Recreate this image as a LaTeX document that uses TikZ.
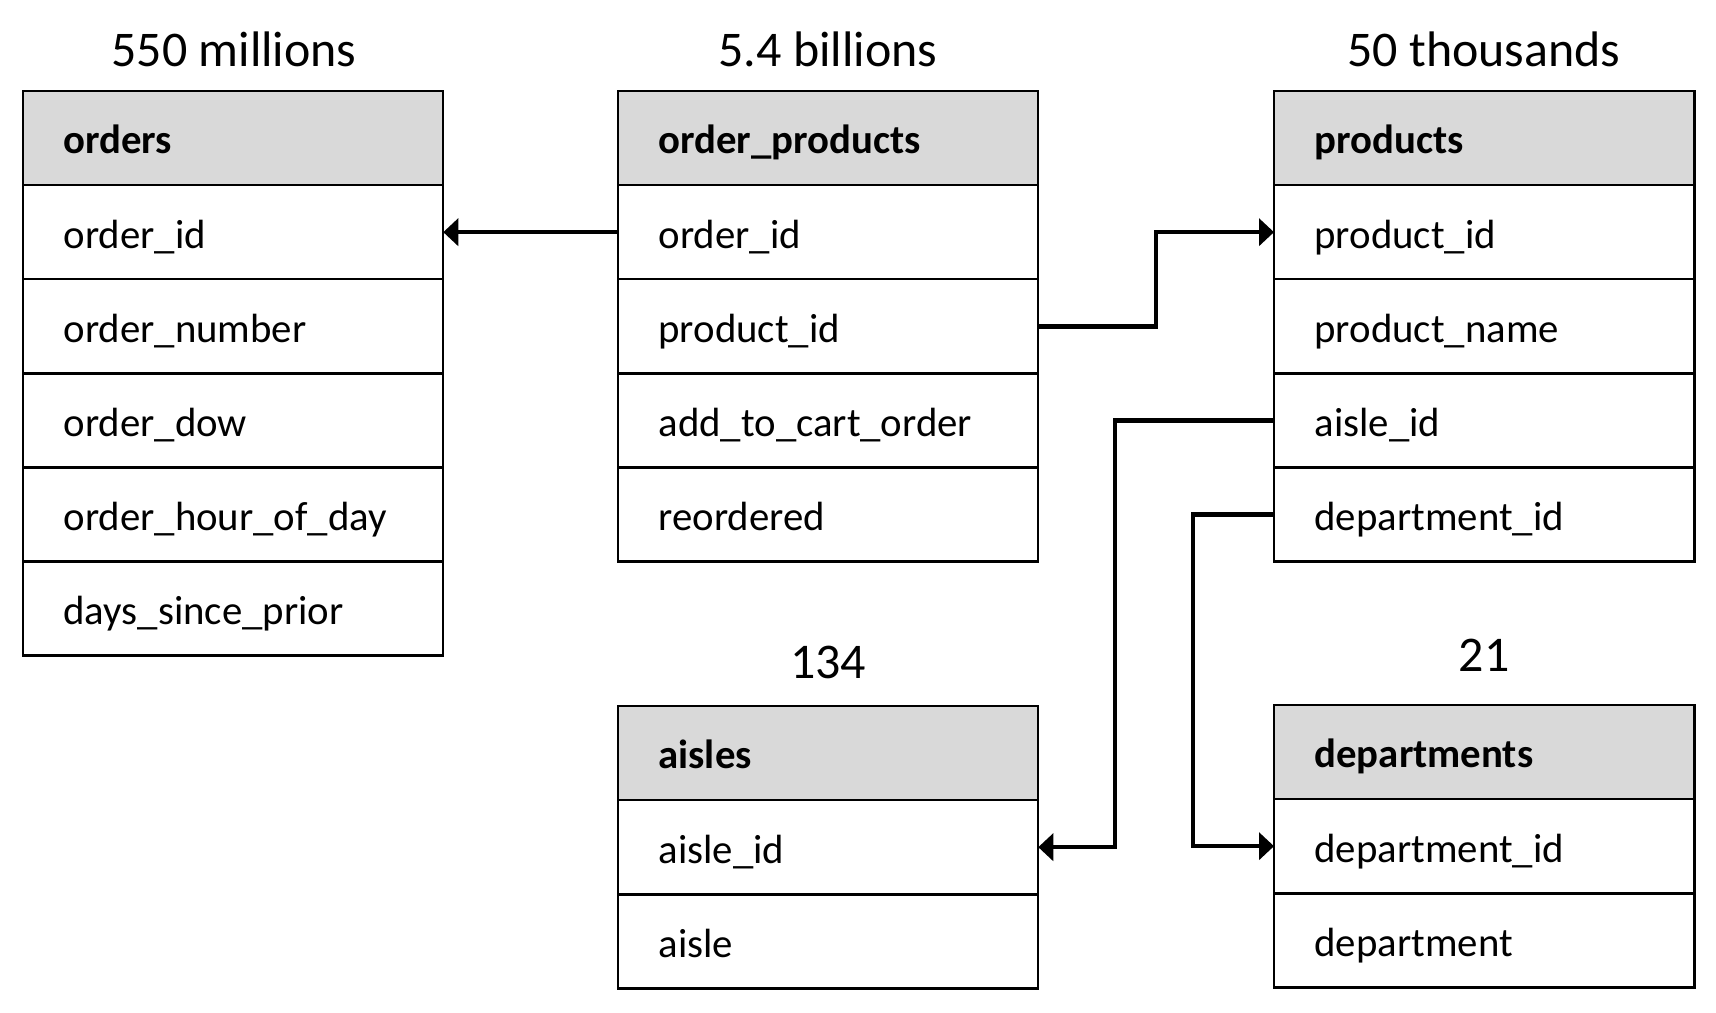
\documentclass[tikz,border=0pt]{standalone}
\usepackage{fontspec}
\setmainfont{Carlito}
\usetikzlibrary{arrows.meta}
\definecolor{hdrgray}{HTML}{D9D9D9}
\newcommand\mytable[5]{%
  \node[hdr] (#1h) at (#2,#3) {#4};
  \foreach \t [count=\i] in {#5} {
    \node[cell] (#1\i) at (#2,{#3+\i*94.1}) {\t};
  }
}
\begin{document}
\begin{tikzpicture}[x=0.01cm,y=-0.01cm,
  cell/.style={draw=black, line width=0.7pt, minimum width=4.2cm, minimum height=0.941cm,
    inner ysep=0pt, inner xsep=0.405cm, outer sep=0pt, anchor=north west,
    text width=3.39cm, align=left, text height=11.5pt, text depth=2.5pt,
    font=\fontsize{11.6}{13}\selectfont},
  hdr/.style={cell, fill=hdrgray, font=\fontsize{11.6}{13}\selectfont\bfseries},
  ttl/.style={anchor=base, inner sep=0pt, font=\fontsize{14.2}{16}\selectfont},
  conn/.style={line width=1.3pt, line join=miter},
  arr/.style={conn, -{Triangle[length=0.15cm, width=0.27cm]}}
]
\useasboundingbox (0,0) rectangle (1716,1012);
\mytable{o}{23}{91}{orders}{order\_id,order\_number,order\_dow,order\_hour\_of\_day,days\_since\_prior}
\mytable{op}{618}{91}{order\_products}{order\_id,product\_id,add\_to\_cart\_order,reordered}
\mytable{p}{1274}{91}{products}{product\_id,product\_name,aisle\_id,department\_id}
\mytable{a}{618}{706}{aisles}{aisle\_id,aisle}
\mytable{d}{1274}{705}{departments}{department\_id,department}
\node[ttl] (t1) at (234,66) {550 millions};
\node[ttl] (t2) at (828,66) {5.4 billions};
\node[ttl] (t3) at (1484,66) {50 thousands};
\node[ttl] (t4) at (828,678) {134};
\node[ttl] (t5) at (1484,671) {21};
\coordinate (k1) at (1156,0);
\coordinate (k2) at (1115,0);
\coordinate (k3) at (1193,0);
\draw[arr] (op1.west) -- (o1.east);
\draw[arr] (op2.east) -- (op2.east -| k1) -- (p1.west -| k1) -- (p1.west);
\draw[arr] (p3.west) -- (p3.west -| k2) -- (a1.east -| k2) -- (a1.east);
\draw[arr] (p4.west) -- (p4.west -| k3) -- (d1.west -| k3) -- (d1.west);
\end{tikzpicture}
\end{document}
